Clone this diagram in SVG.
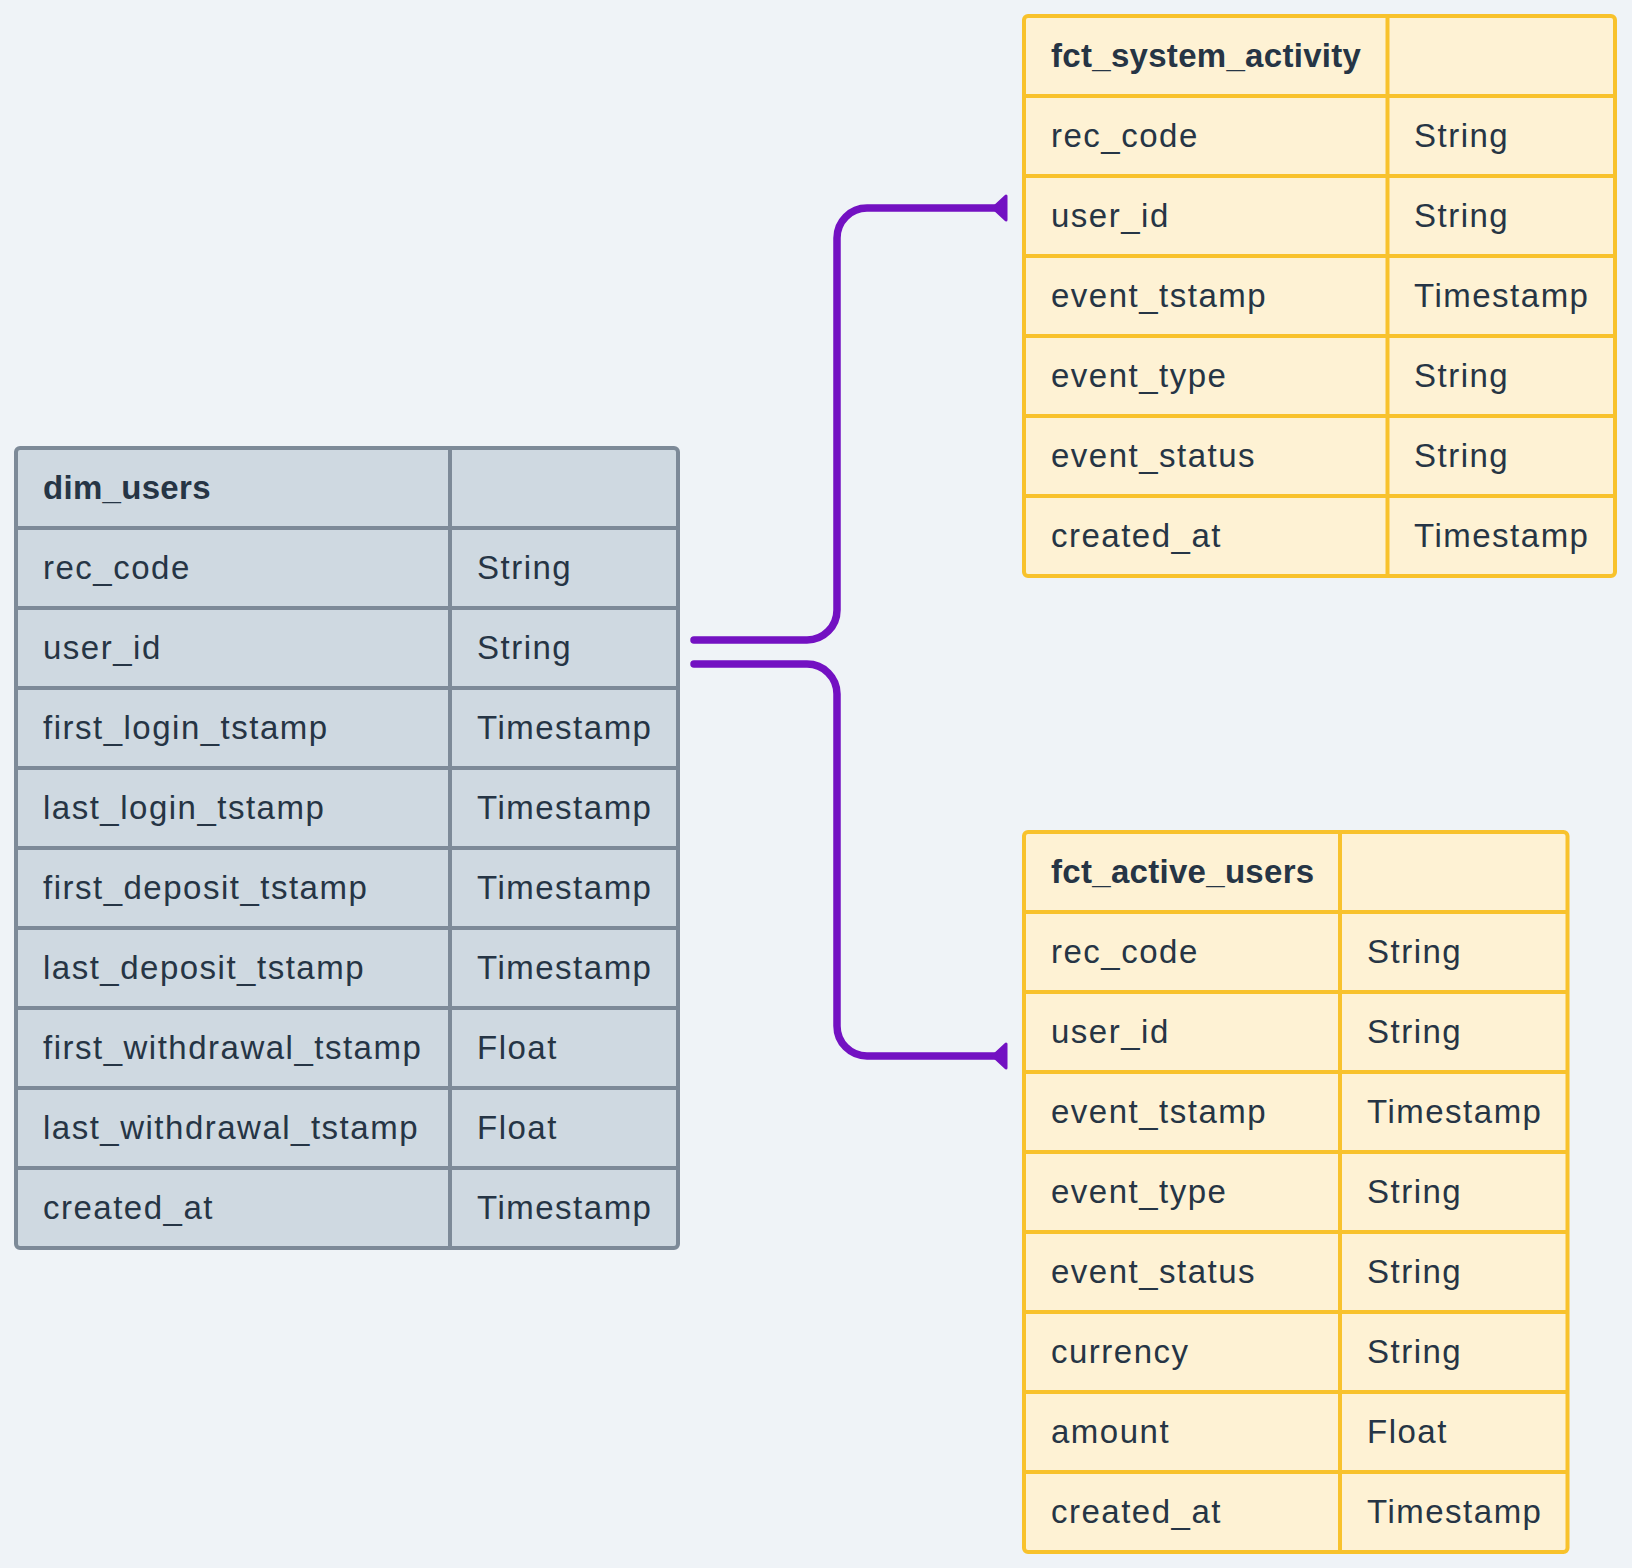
<svg xmlns="http://www.w3.org/2000/svg" width="1632" height="1568" viewBox="0 0 1632 1568">
<style>
  .bg { fill: #EFF3F7; }
  .t { font-family: "Liberation Sans", Arial, sans-serif; font-size: 33px; fill: #263545; letter-spacing: 1.5px; }
  .h { font-family: "Liberation Sans", Arial, sans-serif; font-size: 33px; font-weight: bold; fill: #263545; letter-spacing: 0.3px; }
  .dimbox { fill: #CFD9E1; stroke: #7D8A98; stroke-width: 4; }
  .dimline { stroke: #7D8A98; stroke-width: 4; fill: none; }
  .fctbox { fill: #FEF2D4; stroke: #F8C22C; stroke-width: 4; }
  .fctline { stroke: #F8C22C; stroke-width: 4; fill: none; }
  .edge { fill: none; stroke: #7311C2; stroke-width: 7.5; stroke-linecap: round; stroke-linejoin: round; }
  .head { fill: #7311C2; stroke: #7311C2; stroke-width: 3; stroke-linejoin: round; }
</style>
<rect class="bg" x="0" y="0" width="1632" height="1568"/>

<g id="dim_users">
  <rect class="dimbox" x="16" y="448" width="662" height="800" rx="4"/>
  <path class="dimline" d="M450 448V1248 M16 528H678 M16 608H678 M16 688H678 M16 768H678 M16 848H678 M16 928H678 M16 1008H678 M16 1088H678 M16 1168H678"/>
  <text class="h" x="43" y="499">dim_users</text>
  <text class="t" x="43" y="579">rec_code</text><text class="t" x="477" y="579">String</text>
  <text class="t" x="43" y="659">user_id</text><text class="t" x="477" y="659">String</text>
  <text class="t" x="43" y="739">first_login_tstamp</text><text class="t" x="477" y="739">Timestamp</text>
  <text class="t" x="43" y="819">last_login_tstamp</text><text class="t" x="477" y="819">Timestamp</text>
  <text class="t" x="43" y="899">first_deposit_tstamp</text><text class="t" x="477" y="899">Timestamp</text>
  <text class="t" x="43" y="979">last_deposit_tstamp</text><text class="t" x="477" y="979">Timestamp</text>
  <text class="t" x="43" y="1059">first_withdrawal_tstamp</text><text class="t" x="477" y="1059">Float</text>
  <text class="t" x="43" y="1139">last_withdrawal_tstamp</text><text class="t" x="477" y="1139">Float</text>
  <text class="t" x="43" y="1219">created_at</text><text class="t" x="477" y="1219">Timestamp</text>
</g>

<g id="fct_system_activity">
  <rect class="fctbox" x="1024" y="16" width="591" height="560" rx="4"/>
  <path class="fctline" d="M1387.5 16V576 M1024 96H1615 M1024 176H1615 M1024 256H1615 M1024 336H1615 M1024 416H1615 M1024 496H1615"/>
  <text class="h" x="1051" y="67">fct_system_activity</text>
  <text class="t" x="1051" y="147">rec_code</text><text class="t" x="1414" y="147">String</text>
  <text class="t" x="1051" y="227">user_id</text><text class="t" x="1414" y="227">String</text>
  <text class="t" x="1051" y="307">event_tstamp</text><text class="t" x="1414" y="307">Timestamp</text>
  <text class="t" x="1051" y="387">event_type</text><text class="t" x="1414" y="387">String</text>
  <text class="t" x="1051" y="467">event_status</text><text class="t" x="1414" y="467">String</text>
  <text class="t" x="1051" y="547">created_at</text><text class="t" x="1414" y="547">Timestamp</text>
</g>

<g id="fct_active_users">
  <rect class="fctbox" x="1024" y="832" width="543.5" height="720" rx="4"/>
  <path class="fctline" d="M1340 832V1552 M1024 912H1567.5 M1024 992H1567.5 M1024 1072H1567.5 M1024 1152H1567.5 M1024 1232H1567.5 M1024 1312H1567.5 M1024 1392H1567.5 M1024 1472H1567.5"/>
  <text class="h" x="1051" y="883">fct_active_users</text>
  <text class="t" x="1051" y="963">rec_code</text><text class="t" x="1367" y="963">String</text>
  <text class="t" x="1051" y="1043">user_id</text><text class="t" x="1367" y="1043">String</text>
  <text class="t" x="1051" y="1123">event_tstamp</text><text class="t" x="1367" y="1123">Timestamp</text>
  <text class="t" x="1051" y="1203">event_type</text><text class="t" x="1367" y="1203">String</text>
  <text class="t" x="1051" y="1283">event_status</text><text class="t" x="1367" y="1283">String</text>
  <text class="t" x="1051" y="1363">currency</text><text class="t" x="1367" y="1363">String</text>
  <text class="t" x="1051" y="1443">amount</text><text class="t" x="1367" y="1443">Float</text>
  <text class="t" x="1051" y="1523">created_at</text><text class="t" x="1367" y="1523">Timestamp</text>
</g>

<g id="connectors">
  <path class="edge" d="M694 640H807A30 30 0 0 0 837 610V238A30 30 0 0 1 867 208H995"/>
  <polygon class="head" points="1006,196 1006,220 993,208"/>
  <path class="edge" d="M694 664H807A30 30 0 0 1 837 694V1026A30 30 0 0 0 867 1056H995"/>
  <polygon class="head" points="1006,1044 1006,1068 993,1056"/>
</g>
</svg>
